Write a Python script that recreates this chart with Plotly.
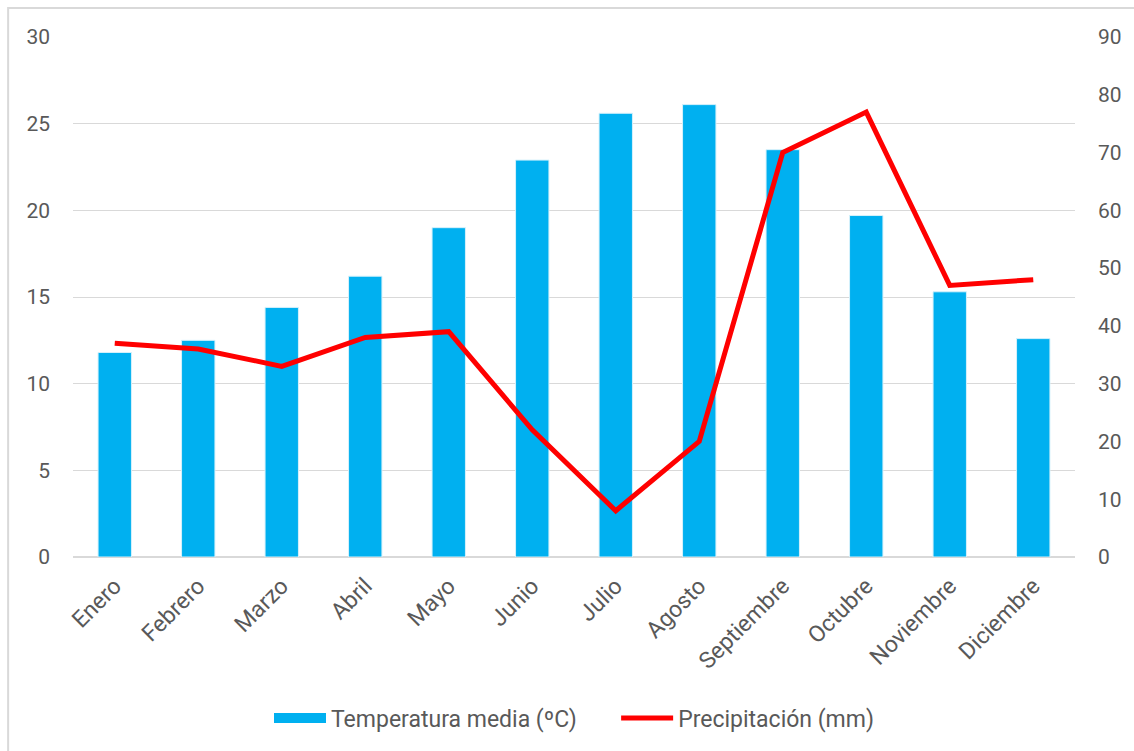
import plotly.graph_objects as go

meses = ["Enero", "Febrero", "Marzo", "Abril", "Mayo", "Junio", "Julio",
         "Agosto", "Septiembre", "Octubre", "Noviembre", "Diciembre"]
temperatura = [11.8, 12.5, 14.4, 16.2, 19.0, 22.9, 25.6, 26.1, 23.5, 19.7, 15.3, 12.6]
precipitacion = [37, 36, 33, 38, 39, 22, 8, 20, 70, 77, 47, 48]

W, H = 1134, 751
L, R, T, B = 73, 57, 37, 194
pw, ph = W - L - R, H - T - B

def px_x(x):
    return (x - L) / pw

def px_y(y):
    return (H - B - y) / ph

font_fam = "Roboto, Liberation Sans, sans-serif"
gray = "#595959"
azul = "#00B0F0"
pad = "\u00a0" * 6  # extra spacing between legend entries

fig = go.Figure()
fig.add_trace(go.Bar(
    x=meses, y=temperatura, name="Temperatura media (ºC)",
    marker=dict(color=azul, line=dict(color="#D6F1FB", width=1)),
    yaxis="y", showlegend=False,
))
# wide rectangular legend swatch for the bar series
fig.add_trace(go.Scatter(
    x=[None], y=[None], name="Temperatura media (ºC)" + pad,
    mode="lines", line=dict(color=azul, width=12.5), yaxis="y",
))
fig.add_trace(go.Scatter(
    x=meses, y=precipitacion, name="Precipitación (mm)",
    mode="lines", line=dict(color="#FF0000", width=5),
    yaxis="y2",
))

fig.update_layout(
    width=W, height=H,
    margin=dict(l=L, r=R, t=T, b=B),
    paper_bgcolor="white", plot_bgcolor="white",
    bargap=0.6,
    font=dict(family=font_fam, size=21, color=gray),
    xaxis=dict(
        tickangle=-45, showgrid=False, showline=False, ticks="",
        ticklabelstandoff=10,
        tickfont=dict(size=23, color=gray),
    ),
    yaxis=dict(
        range=[0, 30], dtick=5, showgrid=True, gridcolor="#D9D9D9", gridwidth=1,
        zeroline=True, zerolinecolor="#D9D9D9", zerolinewidth=2,
        showline=False, ticks="", ticklabelstandoff=22,
        tickfont=dict(size=21, color=gray),
    ),
    yaxis2=dict(
        range=[0, 90], dtick=10, overlaying="y", side="right",
        showgrid=False, zeroline=False, showline=False, ticks="",
        ticklabelstandoff=22, tickfont=dict(size=21, color=gray),
    ),
    legend=dict(
        orientation="h", x=0.5, xanchor="center", y=px_y(718), yanchor="middle",
        font=dict(size=23, color=gray), itemwidth=52, tracegroupgap=0,
    ),
    shapes=[dict(
        type="rect", xref="paper", yref="paper",
        x0=px_x(8), x1=px_x(1145), y0=px_y(765), y1=px_y(8),
        line=dict(color="#D9D9D9", width=2), fillcolor="rgba(0,0,0,0)", layer="below",
    )],
)

fig.write_html("out.html")
